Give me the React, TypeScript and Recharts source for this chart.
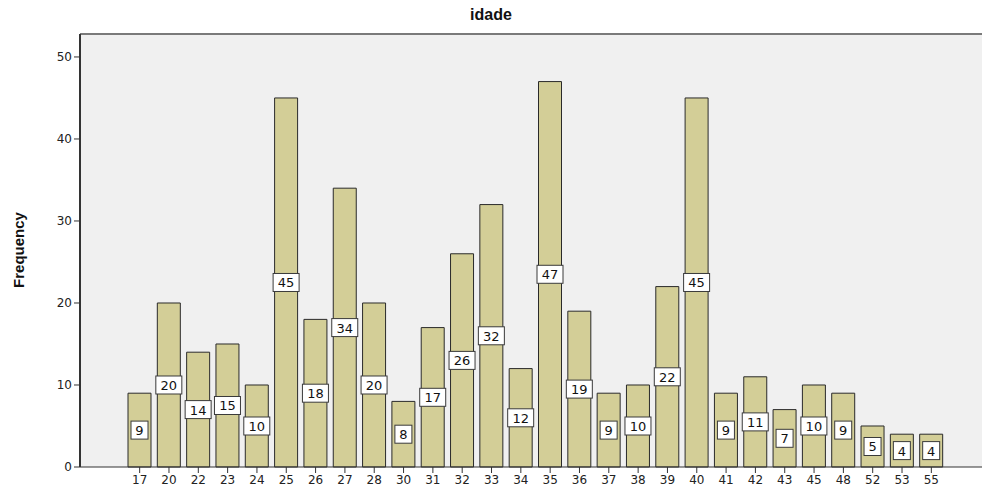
import { BarChart, Bar, XAxis, YAxis, CartesianGrid, ReferenceLine, LabelList } from 'recharts';

// idade -> frequência
const AGES = ['17', '20', '22', '23', '24', '25', '26', '27', '28', '30', '31', '32', '33', '34', '35', '36', '37', '38', '39', '40', '41', '42', '43', '45', '48', '52', '53', '55'];
const COUNTS = [9, 20, 14, 15, 10, 45, 18, 34, 20, 8, 17, 26, 32, 12, 47, 19, 9, 10, 22, 45, 9, 11, 7, 10, 9, 5, 4, 4];
const Y_TICKS = [0, 10, 20, 30, 40, 50];

const data = AGES.map((age, i) => ({ age, count: COUNTS[i] }));

const FONT = 'Arial, "Liberation Sans", sans-serif';
const TICK_FONT = '"DejaVu Sans", Verdana, sans-serif';

// caixa branca com o valor, no meio da barra
const ValueBox = (props: any) => {
  const { x, y, width, height, value } = props;
  const label = String(value);
  const w = label.length > 1 ? 26 : 17;
  const h = 18;
  const cx = x + width / 2;
  const cy = y + height / 2;
  return (
    <g>
      <rect x={cx - w / 2} y={cy - h / 2} width={w} height={h} fill="#ffffff" stroke="#3a3a3a" strokeWidth={1} />
      <text x={cx} y={cy + 5} textAnchor="middle" fontSize={13} fontFamily={TICK_FONT} fill="#111">
        {label}
      </text>
    </g>
  );
};

export default function App() {
  return (
    <div style={{ position: 'absolute', left: 0, top: 0, width: 982, height: 487, background: '#fff' }}>
      <div
        style={{
          position: 'absolute', left: 0, top: 6, width: 982, textAlign: 'center',
          fontFamily: FONT, fontWeight: 'bold', fontSize: 16, color: '#111',
        }}
      >
        idade
      </div>
      <div
        style={{
          position: 'absolute', left: 18, top: 250, transform: 'translate(-50%, -50%) rotate(-90deg)',
          fontFamily: '"Liberation Sans Narrow", Arial, sans-serif', fontWeight: 'bold', fontSize: 15, color: '#111',
          whiteSpace: 'nowrap',
        }}
      >
        Frequency
      </div>
      <BarChart width={982} height={487} data={data} margin={{ top: 34, right: 0, bottom: 0, left: 40 }}>
        <CartesianGrid fill="#f0f0f0" horizontal={false} vertical={false} />
        <ReferenceLine y={52.8} stroke="#7a7a7a" strokeWidth={2} ifOverflow="extendDomain" />
        <XAxis
          dataKey="age"
          height={20}
          padding={{ left: 45, right: 36 }}
          interval={0}
          tickLine={{ stroke: '#333' }}
          tickSize={6}
          axisLine={{ stroke: '#333' }}
          tick={{ fontSize: 12, fill: '#222', fontFamily: TICK_FONT }}
        />
        <YAxis
          width={40}
          domain={[0, 52.8]}
          ticks={Y_TICKS}
          tickSize={6}
          tickLine={{ stroke: '#333' }}
          axisLine={{ stroke: '#333', strokeWidth: 2 }}
          tick={{ fontSize: 12, fill: '#222', fontFamily: TICK_FONT }}
        />
        <Bar dataKey="count" barSize={23} fill="#d3ce97" stroke="#2a2a2a" strokeWidth={1} isAnimationActive={false}>
          <LabelList dataKey="count" content={ValueBox} />
        </Bar>
      </BarChart>
    </div>
  );
}
